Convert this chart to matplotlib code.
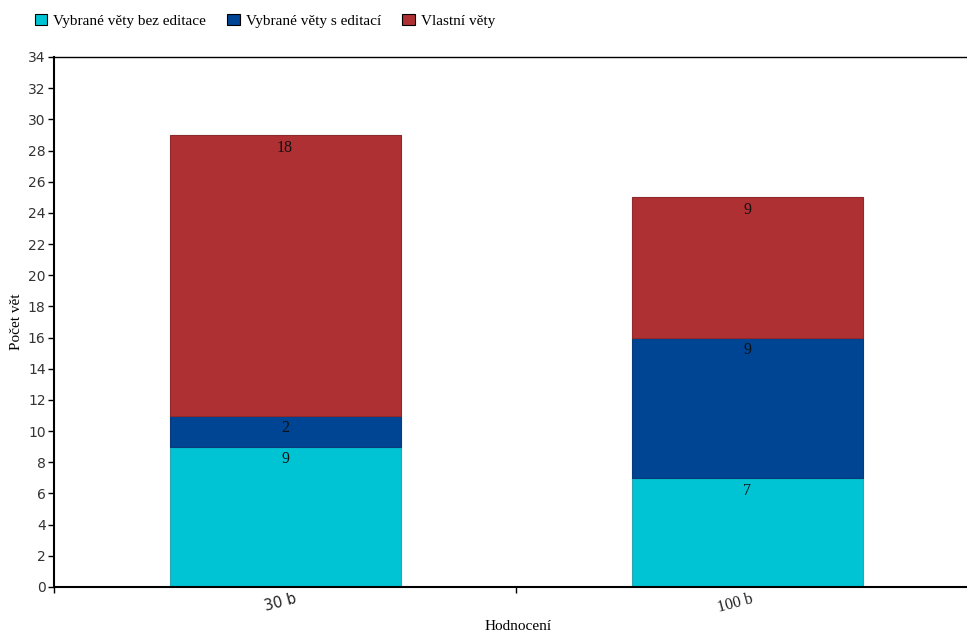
import matplotlib
matplotlib.use("Agg")
import matplotlib.pyplot as plt
from matplotlib.patches import Patch
from matplotlib.transforms import ScaledTranslation
import numpy as np

categories = ["30 b", "100 b"]
series_names = ["Vybrané věty bez editace", "Vybrané věty s editací", "Vlastní věty"]
bez_editace = [9, 7]
s_editaci = [2, 9]
vlastni = [18, 9]
colors = ["#00c4d4", "#004494", "#af3033"]
edge_colors = ["#2aa6b0", "#0a3a78", "#8e2a2c"]

serif = ["Liberation Serif", "DejaVu Serif"]
sans = ["DejaVu Sans"]

fig = plt.figure(figsize=(9.67, 6.32), dpi=100)
ax = fig.add_axes([54 / 967, 45 / 632, (978 - 54) / 967, (587 - 57) / 632])

x = np.arange(len(categories)) + 0.5
width = 0.5
bottom = np.zeros(len(categories))
for vals, c, ec in zip([bez_editace, s_editaci, vlastni], colors, edge_colors):
    vals = np.array(vals, dtype=float)
    ax.bar(x, vals, width=width, bottom=bottom, color=c, edgecolor=ec, linewidth=0.8, zorder=2)
    for xi, b, v in zip(x, bottom, vals):
        ax.text(xi, b + v - 0.3, f"{int(v)}", ha="center", va="top",
                fontsize=11.5, family=serif, color="#111111", zorder=3)
    bottom += vals

ax.set_xlim(0, 2)
ax.set_ylim(0, 34)
ax.set_yticks(np.arange(0, 35, 2))
ax.set_xticks([0, 1, 2])
ax.set_xticklabels([])
ax.tick_params(axis="y", direction="out", length=4, width=1, labelsize=10, pad=2)
ax.tick_params(axis="x", direction="out", length=4, width=1)
for lab in ax.get_yticklabels():
    lab.set_family(sans)
    lab.set_color("#333333")

ax.spines["left"].set_linewidth(1.5)
ax.spines["bottom"].set_linewidth(1.5)
ax.spines["top"].set_linewidth(1.0)

# category labels, slightly rotated under each bar
for xi, cat, fam, dx in zip(x, categories, [sans, serif], [-5, -12]):
    tr = ax.transData + ScaledTranslation(dx / 100, 0, fig.dpi_scale_trans)
    ax.text(xi, -0.25, cat, rotation=15, ha="center", va="top", transform=tr,
            fontsize=10.5 if fam is sans else 11.5, family=fam, color="#222222")

fig.text(518 / 967, 1 - 627 / 632, "Hodnocení", ha="center", va="center", fontsize=11, family=serif)
fig.text(17 / 967, 1 - 322 / 632, "Počet vět", ha="center", va="center", rotation=90, fontsize=11, family=serif)

handles = [Patch(facecolor=c, edgecolor="black", linewidth=0.8) for c in colors]
leg = fig.legend(handles, series_names, loc="upper left", bbox_to_anchor=(21 / 967, 1 - 0 / 632),
                 ncol=3, frameon=False, prop={"family": serif, "size": 11},
                 handlelength=0.8, handleheight=0.8, handletextpad=0.4, columnspacing=1.4)

fig.savefig("out.png", dpi=100)
